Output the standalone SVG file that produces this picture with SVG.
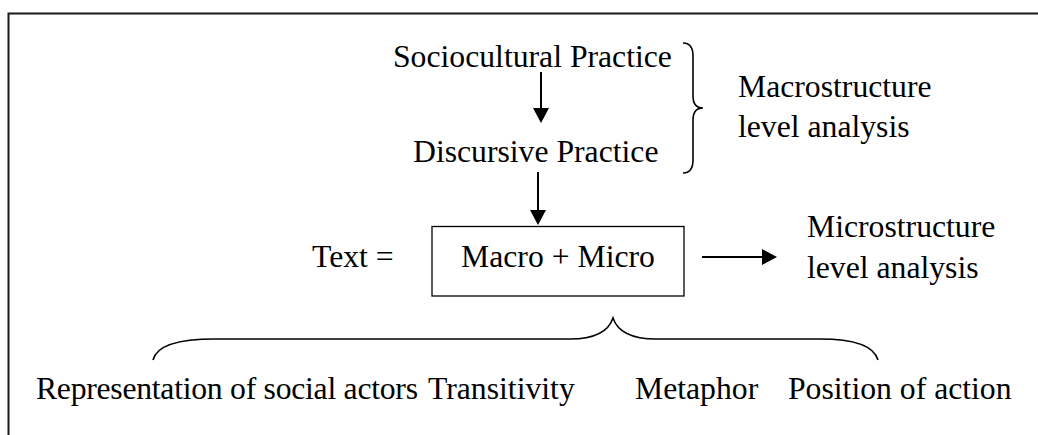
<svg xmlns="http://www.w3.org/2000/svg" width="1038" height="435" viewBox="0 0 1038 435">
<defs>
<style>
text{font-family:"Liberation Serif","Times New Roman",serif;font-size:31.7px;fill:#000}
.ln{stroke:#000;stroke-width:2;fill:none}
.br{stroke:#000;stroke-width:1.6;fill:none}
</style>
<marker id="ah" markerWidth="15" markerHeight="16" refX="0" refY="8" orient="auto" markerUnits="userSpaceOnUse">
<path d="M0,0 L15,8 L0,16 Z" fill="#000"/>
</marker>
</defs>
<rect width="1038" height="435" fill="#fff"/>
<g id="frame"><path d="M8.5,435 L8.5,13.5 L1038,13.5" stroke="#1a1a1a" stroke-width="2" fill="none"/></g>
<g id="sociocultural"><text x="393" y="66.5">Sociocultural Practice</text></g>
<g id="discursive"><text x="413" y="162">Discursive Practice</text></g>
<g id="macro-brace"><path class="br" d="M683,43 Q693,43 693,56 L693,96 Q693,108 703,108 Q693,108 693,120 L693,160 Q693,173 683,173"/></g>
<g id="macro-label"><text x="738" y="97">Macrostructure</text><text x="738" y="137">level analysis</text></g>
<g id="text-eq"><text x="312" y="267">Text =</text></g>
<g id="box"><rect x="432" y="226.5" width="252" height="69.5" fill="none" stroke="#000" stroke-width="1.3"/><text x="558" y="267" text-anchor="middle">Macro + Micro</text></g>
<g id="micro-label"><text x="807" y="237">Microstructure</text><text x="807" y="278">level analysis</text></g>
<g id="bottom-brace"><path class="br" d="M153,360 Q158,339 215,339 L570,339 Q606,339 613,318 Q620,339 656,339 L820,339 Q872,339 878,360"/></g>
<g id="items">
<text x="36" y="399" textLength="382" lengthAdjust="spacing">Representation of social actors</text>
<text x="428" y="399">Transitivity</text>
<text x="635" y="399">Metaphor</text>
<text x="788" y="399">Position of action</text>
</g>
<g id="connectors">
<line class="ln" x1="541" y1="72" x2="541" y2="108" marker-end="url(#ah)"/>
<line class="ln" x1="538" y1="172" x2="538" y2="210" marker-end="url(#ah)"/>
<line class="ln" x1="702" y1="257" x2="762" y2="257" marker-end="url(#ah)"/>
</g>
</svg>
